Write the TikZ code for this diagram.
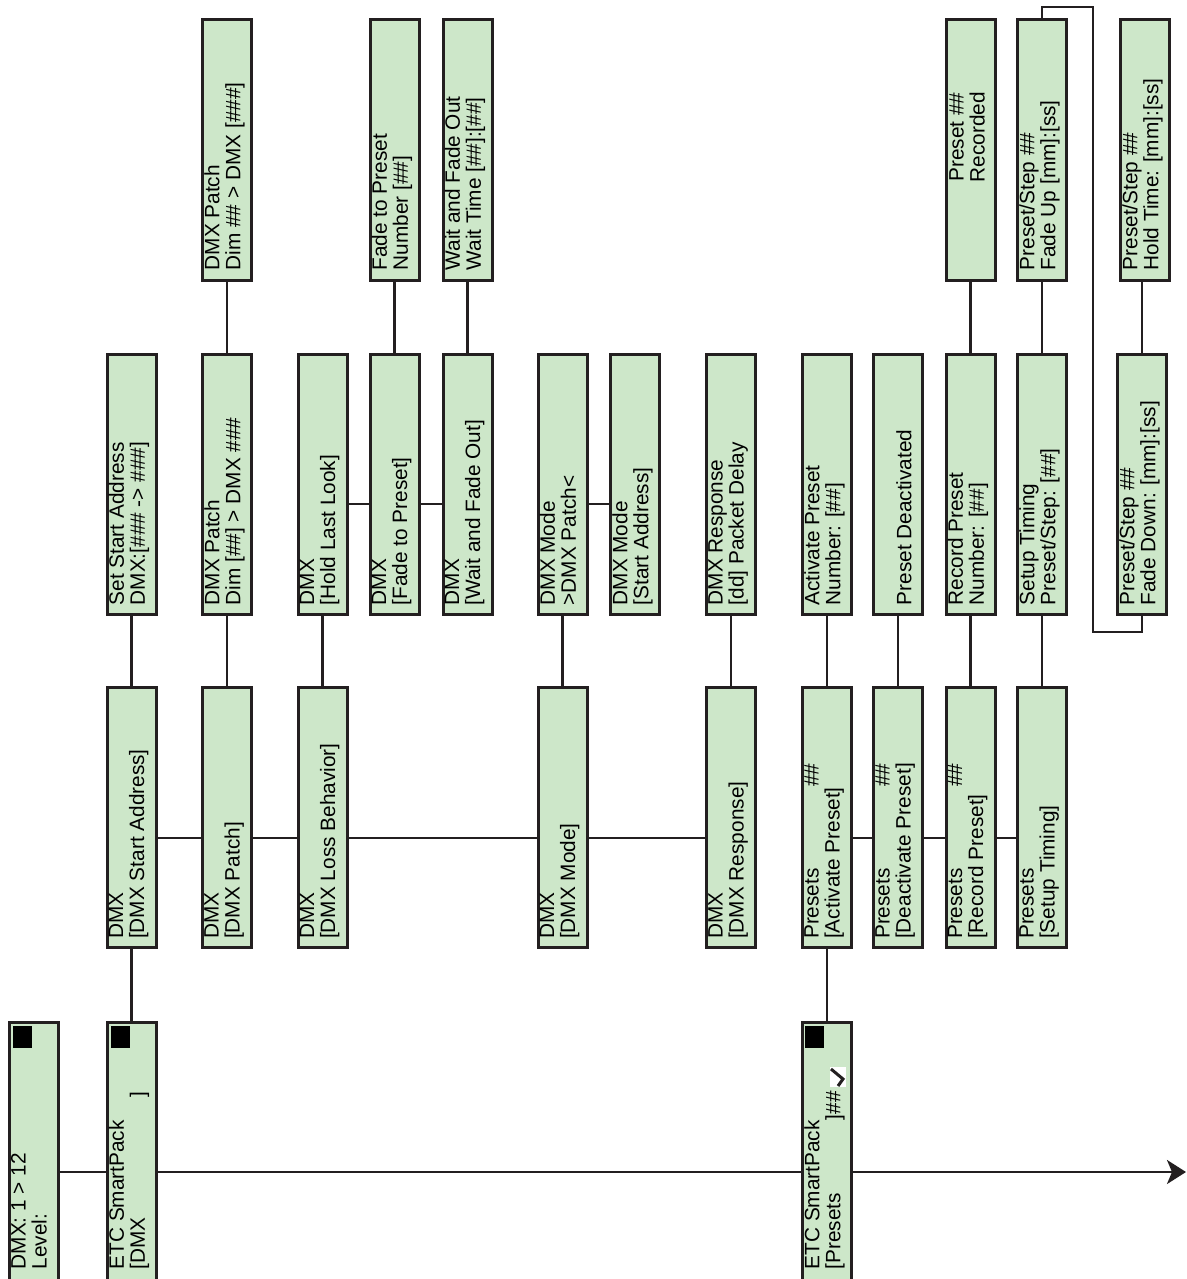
\documentclass[tikz,border=0pt]{standalone}
\usepackage{fontspec}
\setmainfont{Liberation Sans}
\usetikzlibrary{arrows.meta}
\definecolor{boxgreen}{RGB}{205,231,201}
\definecolor{linec}{RGB}{35,31,32}
\newcommand\lcdfont{\fontsize{20.8pt}{21pt}\selectfont}
\begin{document}
\begin{tikzpicture}[x=1pt,y=-1pt,
  menubox/.style={rectangle,draw=linec,fill=boxgreen,line width=3pt,minimum width=49pt,minimum height=260pt,inner sep=0pt},
  lowbox/.style={menubox,minimum height=268pt},
  lcd/.style={rotate=90,anchor=north west,align=left,inner sep=0pt,font=\lcdfont,text=black},
  conn/.style={draw=linec,line width=2.5pt},
  blk/.style={rectangle,fill=black,minimum width=19pt,minimum height=22pt,inner sep=0pt,anchor=north west}]
\clip (0,0) rectangle (1186,1279);
\fill[white] (0,0) rectangle (1186,1279);
% ---- row A
\node[menubox] (A1) at (227,150) {};
\node[menubox] (A2) at (394.5,150) {};
\node[menubox] (A3) at (467.5,150) {};
\node[menubox] (A4) at (970.5,150) {};
\node[menubox] (A5) at (1042,150) {};
\node[menubox] (A6) at (1145,150) {};
% ---- row B
\node[menubox] (B1) at (131.5,484) {};
\node[menubox] (B2) at (227,484) {};
\node[menubox] (B3) at (322.5,484) {};
\node[menubox] (B4) at (394.5,484) {};
\node[menubox] (B5) at (467.5,484) {};
\node[menubox] (B6) at (562.5,484) {};
\node[menubox] (B7) at (635,484) {};
\node[menubox] (B8) at (731,484) {};
\node[menubox] (B9) at (827,484) {};
\node[menubox] (B10) at (898,484) {};
\node[menubox] (B11) at (970.5,484) {};
\node[menubox] (B12) at (1042,484) {};
\node[menubox] (B13) at (1142,484) {};
% ---- row C
\node[menubox] (C1) at (131.5,817.5) {};
\node[menubox] (C2) at (227,817.5) {};
\node[menubox] (C3) at (322.5,817.5) {};
\node[menubox] (C4) at (562.5,817.5) {};
\node[menubox] (C5) at (731,817.5) {};
\node[menubox] (C6) at (827,817.5) {};
\node[menubox] (C7) at (898,817.5) {};
\node[menubox] (C8) at (970.5,817.5) {};
\node[menubox] (C9) at (1042,817.5) {};
% ---- row D
\node[lowbox] (D1) at (34,1156) {};
\node[lowbox] (D2) at (131.5,1156) {};
\node[lowbox] (D3) at (827,1156) {};
% ---- texts row A
\node[lcd] (tA1) at ([shift={(3,-11)}]A1.south west) {DMX Patch\\Dim \#\# > DMX [\#\#\#]};
\node[lcd] (tA2) at ([shift={(3,-11)}]A2.south west) {Fade to Preset\\Number [\#\#]};
\node[lcd] (tA3) at ([shift={(3,-11)}]A3.south west) {Wait and Fade Out\\Wait Time [\#\#]:[\#\#]};
\node[lcd,anchor=north,align=center] (tA4) at (949,137) {Preset \#\#\\Recorded};
\node[lcd] (tA5) at ([shift={(3,-11)}]A5.south west) {Preset/Step \#\#\\Fade Up [mm]:[ss]};
\node[lcd] (tA6) at ([shift={(3,-11)}]A6.south west) {Preset/Step \#\#\\Hold Time: [mm]:[ss]};
% ---- texts row B
\node[lcd] (tB1) at ([shift={(3,-10)}]B1.south west) {Set Start Address\\DMX:[\#\#\# -> \#\#\#]};
\node[lcd] (tB2) at ([shift={(3,-10)}]B2.south west) {DMX Patch\\Dim [\#\#] > DMX \#\#\#};
\node[lcd] (tB3) at ([shift={(3,-10)}]B3.south west) {DMX\\{}[Hold Last Look]};
\node[lcd] (tB4) at ([shift={(3,-10)}]B4.south west) {DMX\\{}[Fade to Preset]};
\node[lcd] (tB5) at ([shift={(3,-10)}]B5.south west) {DMX\\{}[Wait and Fade Out]};
\node[lcd] (tB6) at ([shift={(3,-10)}]B6.south west) {DMX Mode\\>DMX Patch<};
\node[lcd] (tB7) at ([shift={(3,-10)}]B7.south west) {DMX Mode\\{}[Start Address]};
\node[lcd] (tB8) at ([shift={(3,-10)}]B8.south west) {DMX Response\\{}[dd] Packet Delay};
\node[lcd] (tB9) at ([shift={(3,-10)}]B9.south west) {Activate Preset\\Number: [\#\#]};
\node[lcd] (tB10) at ([shift={(24,-10)}]B10.south west) {Preset Deactivated};
\node[lcd] (tB11) at ([shift={(3,-10)}]B11.south west) {Record Preset\\Number: [\#\#]};
\node[lcd] (tB12) at ([shift={(3,-10)}]B12.south west) {Setup Timing\\Preset/Step: [\#\#]};
\node[lcd] (tB13) at ([shift={(3,-10)}]B13.south west) {Preset/Step \#\#\\Fade Down: [mm]:[ss]};
% ---- texts row C
\node[lcd] (tC1) at ([shift={(3,-10)}]C1.south west) {DMX\\{}[DMX Start Address]};
\node[lcd] (tC2) at ([shift={(3,-10)}]C2.south west) {DMX\\{}[DMX Patch]};
\node[lcd] (tC3) at ([shift={(3,-10)}]C3.south west) {DMX\\{}[DMX Loss Behavior]};
\node[lcd] (tC4) at ([shift={(3,-10)}]C4.south west) {DMX\\{}[DMX Mode]};
\node[lcd] (tC5) at ([shift={(3,-10)}]C5.south west) {DMX\\{}[DMX Response]};
\node[lcd] (tC6) at ([shift={(3,-10)}]C6.south west) {\makebox[175pt][l]{Presets\hfill\#\#}\\{}[Activate Preset]};
\node[lcd] (tC7) at ([shift={(3,-10)}]C7.south west) {\makebox[175pt][l]{Presets\hfill\#\#}\\{}[Deactivate Preset]};
\node[lcd] (tC8) at ([shift={(3,-10)}]C8.south west) {\makebox[175pt][l]{Presets\hfill\#\#}\\{}[Record Preset]};
\node[lcd] (tC9) at ([shift={(3,-10)}]C9.south west) {Presets\\{}[Setup Timing]};
% ---- texts row D
\node[lcd] (tD1) at ([shift={(3,-22)}]D1.south west) {DMX: 1 > 12\\Level:};
\node[lcd] (tD2) at ([shift={(3,-22)}]D2.south west) {ETC SmartPack\\\makebox[178pt][l]{[DMX\hfill]}};
\node[lcd] (tD3) at ([shift={(3,-22)}]D3.south west) {ETC SmartPack\\\makebox[155pt][l]{[Presets\hfill]}\#\#};
\node[blk] (sqD1) at ([shift={(5,5)}]D1.north west) {};
\node[blk] (sqD2) at ([shift={(5,5)}]D2.north west) {};
\node[blk] (sqD3) at ([shift={(4,5)}]D3.north west) {};
\fill[white] (830,1067) rectangle (846,1087);
\draw[linec,line width=3pt] (831,1069) -- (843,1079) -- (838,1086);
% ---- connectors
\coordinate (yD) at (0,1172);
\coordinate (yC) at (0,838);
\coordinate (yB) at (0,504);
\coordinate (tipEnd) at (1186,1172);
\coordinate (loopTop) at (1093,7);
\coordinate (loopBot) at (1093,632);
\draw[conn] (D1.east |- yD) -- (D2.west |- yD);
\draw[conn] (D2.east |- yD) -- (D3.west |- yD);
\draw[conn,-{Stealth[length=19pt,width=24pt,inset=5pt]}] (D3.east |- yD) -- (tipEnd);
\draw[conn] (D2.north) -- (C1.south);
\draw[conn] (D3.north) -- (C6.south);
\draw[conn] (C1.east |- yC) -- (C2.west |- yC);
\draw[conn] (C2.east |- yC) -- (C3.west |- yC);
\draw[conn] (C3.east |- yC) -- (C4.west |- yC);
\draw[conn] (C4.east |- yC) -- (C5.west |- yC);
\draw[conn] (C6.east |- yC) -- (C7.west |- yC);
\draw[conn] (C7.east |- yC) -- (C8.west |- yC);
\draw[conn] (C8.east |- yC) -- (C9.west |- yC);
\draw[conn] (C1.north) -- (B1.south);
\draw[conn] (C2.north) -- (B2.south);
\draw[conn] (C3.north) -- (B3.south);
\draw[conn] (C4.north) -- (B6.south);
\draw[conn] (C5.north) -- (B8.south);
\draw[conn] (C6.north) -- (B9.south);
\draw[conn] (C7.north) -- (B10.south);
\draw[conn] (C8.north) -- (B11.south);
\draw[conn] (C9.north) -- (B12.south);
\draw[conn] (B3.east |- yB) -- (B4.west |- yB);
\draw[conn] (B4.east |- yB) -- (B5.west |- yB);
\draw[conn] (B6.east |- yB) -- (B7.west |- yB);
\draw[conn] (B2.north) -- (A1.south);
\draw[conn] (B4.north) -- (A2.south);
\draw[conn] (B5.north) -- (A3.south);
\draw[conn] (B11.north) -- (A4.south);
\draw[conn] (B12.north) -- (A5.south);
\draw[conn] (B13.north) -- (B13.north |- A6.south);
\draw[conn] (A5.north) |- (loopTop) -- (loopBot) -| (B13.south);
\end{tikzpicture}
\end{document}
